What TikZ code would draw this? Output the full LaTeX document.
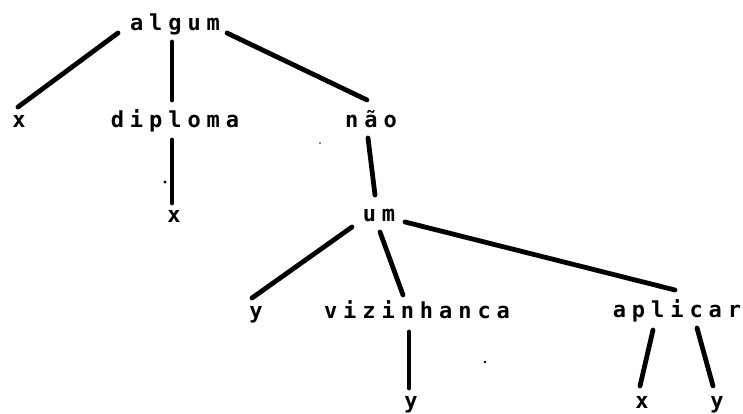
\documentclass[tikz,border=0pt]{standalone}
\usepackage{fontspec}
\newfontfamily\dotfont[LetterSpace=27,BoldFont={DejaVu Sans Mono Bold}]{DejaVu Sans Mono}
\begin{document}
\begin{tikzpicture}[x=1pt,y=-1pt,
  word/.style={inner sep=0pt,anchor=base,font=\dotfont\bfseries\fontsize{22}{22}\selectfont},
  branch/.style={line width=4.8pt,line cap=round},
  speck/.style={fill=black,draw=none}]
\useasboundingbox (0,0) rectangle (743,414);
% words of the tree, placed by their base line
\node[word] (algum) at (175,31) {algum};
\node[word] (x1) at (19,128) {x};
\node[word] (diploma) at (175,128) {diploma};
\node[word] (nao) at (371,128) {não};
\node[word] (x2) at (174,222) {x};
\node[word] (um) at (379,221) {um};
\node[word] (y1) at (256,318) {y};
\node[word] (viz) at (417,318) {vizinhanca};
\node[word] (apl) at (677,317) {aplicar};
\node[word] (y2) at (411,408) {y};
\node[word] (x3) at (642,408) {x};
\node[word] (y3) at (717,408) {y};
% branch end points
\coordinate (a1) at (118,33);  \coordinate (b1) at (18,107);
\coordinate (a2) at (172,42);  \coordinate (b2) at (172,100);
\coordinate (a3) at (227,33);  \coordinate (b3) at (367,100);
\coordinate (a4) at (172,140); \coordinate (b4) at (172,203);
\coordinate (a5) at (368,138); \coordinate (b5) at (375,195);
\coordinate (a6) at (352,227); \coordinate (b6) at (252,298);
\coordinate (a7) at (380,232); \coordinate (b7) at (403,295);
\coordinate (a8) at (405,222); \coordinate (b8) at (675,290);
\coordinate (a9) at (409,332); \coordinate (b9) at (409,388);
\coordinate (a10) at (653,330); \coordinate (b10) at (640,386);
\coordinate (a11) at (697,328); \coordinate (b11) at (713,386);
\draw[branch] (a1) -- (b1);
\draw[branch] (a2) -- (b2);
\draw[branch] (a3) -- (b3);
\draw[branch] (a4) -- (b4);
\draw[branch] (a5) -- (b5);
\draw[branch] (a6) -- (b6);
\draw[branch] (a7) -- (b7);
\draw[branch] (a8) -- (b8);
\draw[branch] (a9) -- (b9);
\draw[branch] (a10) -- (b10);
\draw[branch] (a11) -- (b11);
% small specks
\fill[speck] (165,182) circle (1.6);
\fill[speck] (485,362) circle (1.3);
\fill[speck] (320,143) circle (0.8);
\end{tikzpicture}
\end{document}
